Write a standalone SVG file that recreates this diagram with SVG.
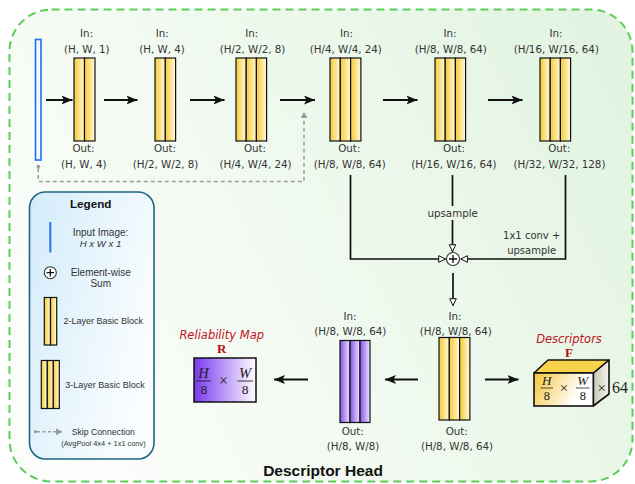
<svg xmlns="http://www.w3.org/2000/svg" width="635" height="484" viewBox="0 0 635 484">
  <defs>
    <linearGradient id="bg" x1="0" y1="0.6" x2="1" y2="0.2">
      <stop offset="0" stop-color="#fbfdfa"/>
      <stop offset="1" stop-color="#e2f4e1"/>
    </linearGradient>
    <linearGradient id="legendBg" x1="0" y1="0" x2="1" y2="0.5">
      <stop offset="0" stop-color="#d3ecfa"/>
      <stop offset="1" stop-color="#fafdff"/>
    </linearGradient>
    <linearGradient id="yel" x1="0" y1="0" x2="1" y2="0">
      <stop offset="0" stop-color="#f7cb35"/>
      <stop offset="1" stop-color="#fff9dc"/>
    </linearGradient>
    <linearGradient id="pur" x1="0" y1="0" x2="1" y2="0">
      <stop offset="0" stop-color="#8750ee"/>
      <stop offset="1" stop-color="#efe6ff"/>
    </linearGradient>
    <linearGradient id="relMap" x1="0" y1="0" x2="1" y2="0">
      <stop offset="0" stop-color="#7a38ef"/>
      <stop offset="1" stop-color="#ffffff"/>
    </linearGradient>
    <linearGradient id="cubeFront" x1="0" y1="0" x2="1" y2="0.3">
      <stop offset="0" stop-color="#f6c43a"/>
      <stop offset="0.85" stop-color="#ffffff"/>
    </linearGradient>
    <linearGradient id="cubeSide" x1="0" y1="0" x2="1" y2="0">
      <stop offset="0" stop-color="#c9c9b4"/>
      <stop offset="1" stop-color="#f3f3ec"/>
    </linearGradient>
    <linearGradient id="inputFill" x1="0" y1="0" x2="1" y2="0">
      <stop offset="0" stop-color="#eaf3ff"/>
      <stop offset="1" stop-color="#ffffff"/>
    </linearGradient>
    <marker id="solidHead" markerUnits="userSpaceOnUse" markerWidth="12" markerHeight="10" refX="11" refY="4.5" orient="auto">
      <path d="M0,0 L11,4.5 L0,9 L2.5,4.5 z" fill="#111"/>
    </marker>
    <marker id="openHead" markerUnits="userSpaceOnUse" markerWidth="9" markerHeight="9" refX="7.5" refY="4" orient="auto">
      <path d="M0.7,0.7 L7.5,4 L0.7,7.3 z" fill="#fff" stroke="#111" stroke-width="1"/>
    </marker>
    <marker id="grayHead" markerUnits="userSpaceOnUse" markerWidth="8" markerHeight="8" refX="6" refY="3.5" orient="auto">
      <path d="M0,0 L6,3.5 L0,7 z" fill="#9a9a9a"/>
    </marker>
  </defs>
  <style>
    .lbl { font-family: "DejaVu Sans", Verdana, sans-serif; font-size: 10.3px; fill: #333; text-anchor: middle; dominant-baseline: central; }
    .col-y { fill: url(#yel); stroke: #111; stroke-width: 1.2; }
    .col-p { fill: url(#pur); stroke: #111; stroke-width: 1.2; }
    .main { stroke: #111; stroke-width: 2; fill: none; marker-end: url(#solidHead); }
    .conn { stroke: #111; stroke-width: 1.7; fill: none; }
    .skip { stroke: #9a9a9a; stroke-width: 1.5; stroke-dasharray: 4 3; fill: none; }
    .leg { font-family: "Liberation Sans", Arial, sans-serif; fill: #333; text-anchor: middle; dominant-baseline: central; }
    .title { font-family: "DejaVu Sans", Verdana, sans-serif; font-style: italic; font-size: 11.5px; fill: #c0141c; text-anchor: middle; }
    .math { font-family: "Liberation Serif", "DejaVu Serif", serif; fill: #222; text-anchor: middle; }
  </style>

  <!-- head container -->
  <rect x="9.5" y="9.5" width="623" height="472" rx="42" fill="url(#bg)" stroke="#5ccd5a" stroke-width="2" stroke-dasharray="8 5"/>

  <!-- input image -->
  <g id="input">
    <rect x="35.5" y="39.5" width="5.5" height="120.5" fill="url(#inputFill)" stroke="#1f6ff2" stroke-width="1.6"/>
  </g>

  <!-- encoder blocks -->
  <g id="block1">
    <text class="lbl" x="86.6" y="33">In:</text>
    <text class="lbl" x="86.8" y="49">(H, W, 1)</text>
    <rect class="col-y" x="74" y="58" width="10.5" height="83"/>
    <rect class="col-y" x="84.5" y="58" width="10.5" height="83"/>
    <text class="lbl" x="83.5" y="148">Out:</text>
    <text class="lbl" x="83.8" y="163.5">(H, W, 4)</text>
  </g>
  <g id="block2">
    <text class="lbl" x="162.3" y="33">In:</text>
    <text class="lbl" x="162" y="49">(H, W, 4)</text>
    <rect class="col-y" x="155" y="58" width="10.3" height="83"/>
    <rect class="col-y" x="165.3" y="58" width="10.3" height="83"/>
    <text class="lbl" x="165" y="148">Out:</text>
    <text class="lbl" x="165.5" y="163.5">(H/2, W/2, 8)</text>
  </g>
  <g id="block3">
    <text class="lbl" x="251.7" y="33">In:</text>
    <text class="lbl" x="252.5" y="49">(H/2, W/2, 8)</text>
    <rect class="col-y" x="236" y="58" width="10.2" height="83"/>
    <rect class="col-y" x="246.2" y="58" width="10.2" height="83"/>
    <rect class="col-y" x="256.4" y="58" width="10.2" height="83"/>
    <text class="lbl" x="255" y="148">Out:</text>
    <text class="lbl" x="255.5" y="163.5">(H/4, W/4, 24)</text>
  </g>
  <g id="block4">
    <text class="lbl" x="346.5" y="33">In:</text>
    <text class="lbl" x="345.8" y="49">(H/4, W/4, 24)</text>
    <rect class="col-y" x="330" y="58" width="10.3" height="83"/>
    <rect class="col-y" x="340.3" y="58" width="10.3" height="83"/>
    <rect class="col-y" x="350.6" y="58" width="10.3" height="83"/>
    <text class="lbl" x="349.3" y="148">Out:</text>
    <text class="lbl" x="349.8" y="163.5">(H/8, W/8, 64)</text>
  </g>
  <g id="block5">
    <text class="lbl" x="450" y="33">In:</text>
    <text class="lbl" x="450.8" y="49">(H/8, W/8, 64)</text>
    <rect class="col-y" x="435" y="58" width="10.2" height="83"/>
    <rect class="col-y" x="445.2" y="58" width="10.2" height="83"/>
    <rect class="col-y" x="455.4" y="58" width="10.2" height="83"/>
    <text class="lbl" x="454" y="148">Out:</text>
    <text class="lbl" x="454" y="163.5">(H/16, W/16, 64)</text>
  </g>
  <g id="block6">
    <text class="lbl" x="556" y="33">In:</text>
    <text class="lbl" x="556.3" y="49">(H/16, W/16, 64)</text>
    <rect class="col-y" x="540" y="58" width="10.2" height="83"/>
    <rect class="col-y" x="550.2" y="58" width="10.2" height="83"/>
    <rect class="col-y" x="560.4" y="58" width="10.2" height="83"/>
    <text class="lbl" x="559.3" y="148">Out:</text>
    <text class="lbl" x="559.5" y="163.5">(H/32, W/32, 128)</text>
  </g>

  <!-- fusion -->
  <g id="sum">
    <circle cx="453" cy="259" r="6.5" fill="#fff" stroke="#333" stroke-width="1.1"/>
    <path d="M449,259 H457 M453,255 V263" stroke="#111" stroke-width="1.3"/>
  </g>

  <!-- decoder blocks -->
  <g id="descBlock">
    <text class="lbl" x="455" y="315.5">In:</text>
    <text class="lbl" x="455.8" y="330.5">(H/8, W/8, 64)</text>
    <rect class="col-y" x="439" y="337.5" width="10.3" height="82.5"/>
    <rect class="col-y" x="449.3" y="337.5" width="10.3" height="82.5"/>
    <rect class="col-y" x="459.6" y="337.5" width="10.3" height="82.5"/>
    <text class="lbl" x="456.7" y="430.5">Out:</text>
    <text class="lbl" x="457" y="445.5">(H/8, W/8, 64)</text>
  </g>
  <g id="relBlock">
    <text class="lbl" x="350" y="315.5">In:</text>
    <text class="lbl" x="350.3" y="330.5">(H/8, W/8, 64)</text>
    <rect class="col-p" x="340" y="340.5" width="10" height="82"/>
    <rect class="col-p" x="350" y="340.5" width="10" height="82"/>
    <rect class="col-p" x="360" y="340.5" width="10" height="82"/>
    <text class="lbl" x="352.7" y="430.5">Out:</text>
    <text class="lbl" x="353" y="446">(H/8, W/8)</text>
  </g>

  <!-- reliability output -->
  <g id="reliability">
    <text class="title" x="221.7" y="339">Reliability Map</text>
    <text class="math" x="221.7" y="353" font-size="13" font-weight="bold" style="fill:#b0121a">R</text>
    <rect x="194" y="358" width="62" height="44" fill="url(#relMap)" stroke="#111" stroke-width="1.5"/>
    <text class="math" x="203.5" y="377.5" font-size="14.5" font-style="italic">H</text>
    <line x1="196.5" y1="381" x2="211" y2="381" stroke="#222" stroke-width="0.9"/>
    <text class="math" x="203.8" y="394" font-size="13.5">8</text>
    <text class="math" x="223.5" y="386" font-size="16">×</text>
    <text class="math" x="245" y="377.5" font-size="14.5" font-style="italic">W</text>
    <line x1="237.5" y1="381" x2="253" y2="381" stroke="#222" stroke-width="0.9"/>
    <text class="math" x="245" y="394" font-size="13.5">8</text>
  </g>

  <!-- descriptor output -->
  <g id="descriptors">
    <text class="title" x="569" y="343">Descriptors</text>
    <text class="math" x="569" y="357" font-size="13" font-weight="bold" style="fill:#b0121a">F</text>
    <path d="M593.3,373 L609,360 L609,394 L593.3,406 z" fill="url(#cubeSide)" stroke="#111" stroke-width="1.6" stroke-linejoin="round"/>
    <path d="M534,373 L548,360 L609,360 L593.3,373 z" fill="#f8d24a" stroke="#111" stroke-width="1.6" stroke-linejoin="round"/>
    <rect x="534" y="373" width="59.3" height="33" fill="url(#cubeFront)" stroke="#111" stroke-width="1.6"/>
    <text class="math" x="546.7" y="385" font-size="13" font-style="italic">H</text>
    <line x1="540.5" y1="388" x2="553" y2="388" stroke="#222" stroke-width="0.8"/>
    <text class="math" x="546.8" y="399.5" font-size="12.5">8</text>
    <text class="math" x="564" y="393" font-size="15">×</text>
    <text class="math" x="582.7" y="385" font-size="13" font-style="italic">W</text>
    <line x1="576" y1="388" x2="589.5" y2="388" stroke="#222" stroke-width="0.8"/>
    <text class="math" x="582.8" y="399.5" font-size="12.5">8</text>
    <text class="math" x="601.7" y="393" font-size="15">×</text>
    <text class="math" x="620" y="393" font-size="16">64</text>
  </g>

  <!-- connectors -->
  <g id="connectors">
    <line class="main" x1="46" y1="100" x2="72.5" y2="100"/>
    <line class="main" x1="104" y1="100" x2="137.5" y2="100"/>
    <line class="main" x1="190" y1="100" x2="224.5" y2="100"/>
    <line class="main" x1="280" y1="100" x2="315" y2="100"/>
    <line class="main" x1="383" y1="100" x2="417.5" y2="100"/>
    <line class="main" x1="488" y1="100" x2="522.5" y2="100"/>

    <!-- skip connection -->
    <circle cx="38.3" cy="166.5" r="1.8" fill="#9a9a9a"/>
    <path class="skip" d="M38.3,168 V181.5 H304 V112" marker-end="url(#grayHead)"/>

    <!-- feature fusion -->
    <path class="conn" d="M350.5,175 V259 H445.5" marker-end="url(#openHead)"/>
    <line class="conn" x1="452.5" y1="175" x2="452.5" y2="206"/>
    <text class="lbl" x="452.7" y="212.5">upsample</text>
    <line class="conn" x1="452.5" y1="220" x2="452.5" y2="251.5" marker-end="url(#openHead)"/>
    <path class="conn" d="M565.5,175 V259 H460.8" marker-end="url(#openHead)"/>
    <text class="lbl" x="531.7" y="235.5" style="font-size:10px">1x1 conv +</text>
    <text class="lbl" x="531.7" y="250" style="font-size:10px">upsample</text>
    <line class="conn" x1="453" y1="273" x2="453" y2="305.5" marker-end="url(#openHead)"/>

    <!-- heads -->
    <line class="main" x1="418" y1="379.5" x2="385" y2="379.5"/>
    <line class="main" x1="308" y1="379.5" x2="274" y2="379.5"/>
    <line class="main" x1="485" y1="379.5" x2="518.5" y2="379.5"/>
  </g>

  <!-- legend -->
  <g id="legend">
    <rect x="29.5" y="192" width="124.5" height="267" rx="16" fill="url(#legendBg)" stroke="#1d6680" stroke-width="1.6"/>
    <text class="leg" x="90.7" y="203.5" font-size="11.7" font-weight="bold" style="fill:#111">Legend</text>
    <line x1="50.3" y1="222" x2="50.3" y2="252.5" stroke="#2a72f0" stroke-width="2"/>
    <text class="leg" x="100.5" y="232.5" font-size="10">Input Image:</text>
    <text class="leg" x="100.5" y="243" font-size="9.6" font-style="italic">H x W x 1</text>
    <circle cx="50.3" cy="272.7" r="6" fill="#fff" stroke="#333" stroke-width="1.1"/>
    <path d="M46.6,272.7 H54 M50.3,269 V276.4" stroke="#111" stroke-width="1.3"/>
    <text class="leg" x="100.7" y="272.7" font-size="10">Element-wise</text>
    <text class="leg" x="100.7" y="283" font-size="10">Sum</text>
    <rect class="col-y" x="44.3" y="297.5" width="6.2" height="47.5"/>
    <rect class="col-y" x="50.5" y="297.5" width="6.2" height="47.5"/>
    <text class="leg" x="103.3" y="320.7" font-size="9">2-Layer Basic Block</text>
    <rect class="col-y" x="41.3" y="360.5" width="6" height="48"/>
    <rect class="col-y" x="47.3" y="360.5" width="6" height="48"/>
    <rect class="col-y" x="53.3" y="360.5" width="6" height="48"/>
    <text class="leg" x="105" y="384.7" font-size="9">3-Layer Basic Block</text>
    <circle cx="35.5" cy="431.7" r="1.6" fill="#9a9a9a"/>
    <line class="skip" x1="37" y1="431.7" x2="62" y2="431.7" marker-end="url(#grayHead)" style="stroke-dasharray:3 2.5"/>
    <text class="leg" x="71.7" y="431.7" font-size="8.7" style="text-anchor:start">Skip Connection</text>
    <text class="leg" x="103.5" y="443.3" font-size="7.4">(AvgPool 4x4 + 1x1 conv)</text>
  </g>

  <!-- container title -->
  <text x="323" y="476" font-family="'Liberation Sans', Arial, sans-serif" font-weight="bold" font-size="15.5" fill="#111" text-anchor="middle">Descriptor Head</text>
</svg>
